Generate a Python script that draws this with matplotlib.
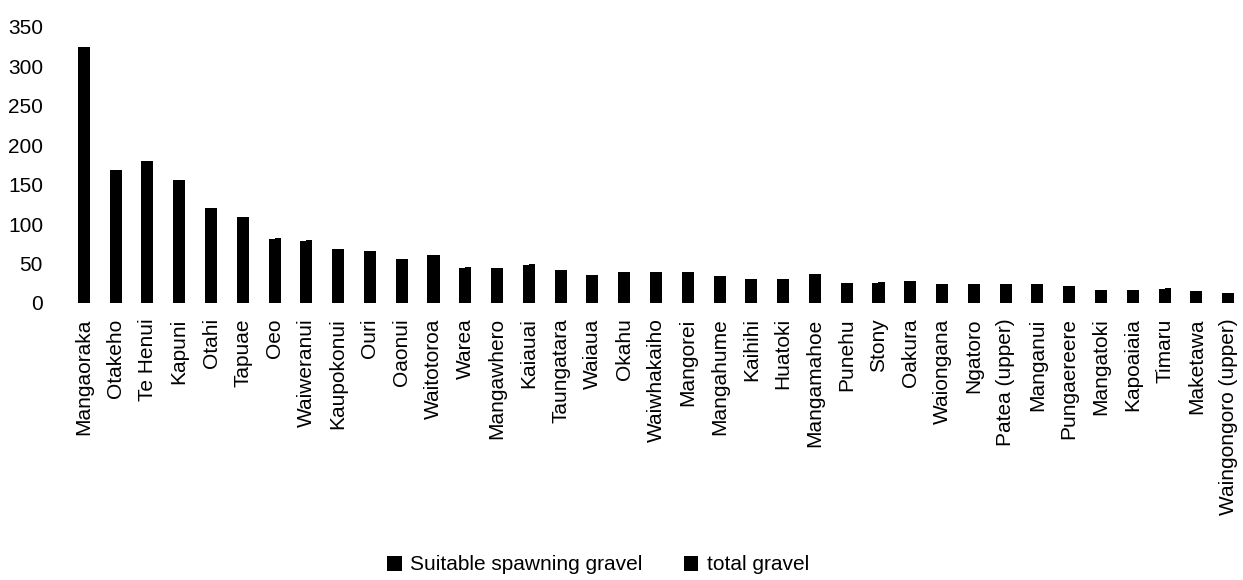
import numpy as np
import matplotlib
matplotlib.use('Agg')
import matplotlib.pyplot as plt

FONT = 'Liberation Sans'
FONTSIZE = 15

streams = ['Mangaoraka', 'Otakeho', 'Te Henui', 'Kapuni', 'Otahi', 'Tapuae', 'Oeo',
           'Waiweranui', 'Kaupokonui', 'Ouri', 'Oaonui', 'Waitotoroa', 'Warea',
           'Mangawhero', 'Kaiauai', 'Taungatara', 'Waiaua', 'Okahu', 'Waiwhakaiho',
           'Mangorei', 'Mangahume', 'Kaihihi', 'Huatoki', 'Mangamahoe', 'Punehu',
           'Stony', 'Oakura', 'Waiongana', 'Ngatoro', 'Patea (upper)', 'Manganui',
           'Pungaereere', 'Mangatoki', 'Kapoaiaia', 'Timaru', 'Maketawa',
           'Waingongoro (upper)']
suitable = [325, 169, 180, 156, 121, 109, 81, 79, 69, 66, 56, 61, 45, 45, 48, 42, 36, 39, 39,
            39, 34, 31, 31, 37, 25, 25, 28, 24, 24, 24, 24, 22, 17, 17, 18, 15, 13]
total = [325, 169, 180, 156, 121, 109, 82, 80, 69, 66, 56, 61, 46, 45, 49, 42, 36, 39, 39,
         39, 34, 31, 31, 37, 25, 26, 28, 24, 24, 24, 24, 22, 17, 17, 19, 15, 13]

plt.rcParams['font.family'] = [FONT, 'DejaVu Sans']

fig = plt.figure(figsize=(12.43, 5.8), dpi=100)
ax = fig.add_axes([68 / 1243, 1 - 303 / 580, (1244 - 68) / 1243, 276 / 580])

x = np.arange(len(streams))
w = 0.19
ax.bar(x - w / 2, suitable, width=w, color='black', label='Suitable spawning gravel')
ax.bar(x + w / 2, total, width=w, color='black', label='total gravel')

ax.set_xlim(-0.5, len(streams) - 0.5)
ax.set_ylim(0, 350)
ax.set_yticks(range(0, 351, 50))
ax.set_xticks(x)
ax.set_xticklabels(streams, rotation=90, fontsize=FONTSIZE)
ax.tick_params(axis='x', length=0, pad=11)
ax.tick_params(axis='y', length=0, pad=18, labelsize=FONTSIZE)
for s in ax.spines.values():
    s.set_visible(False)

fig.legend(loc='center', bbox_to_anchor=(598 / 1243, 1 - 565 / 580), ncol=2, frameon=False,
           fontsize=FONTSIZE, handlelength=0.7, handleheight=0.7, columnspacing=2.0,
           handletextpad=0.4)

fig.savefig('out.png', dpi=100)
